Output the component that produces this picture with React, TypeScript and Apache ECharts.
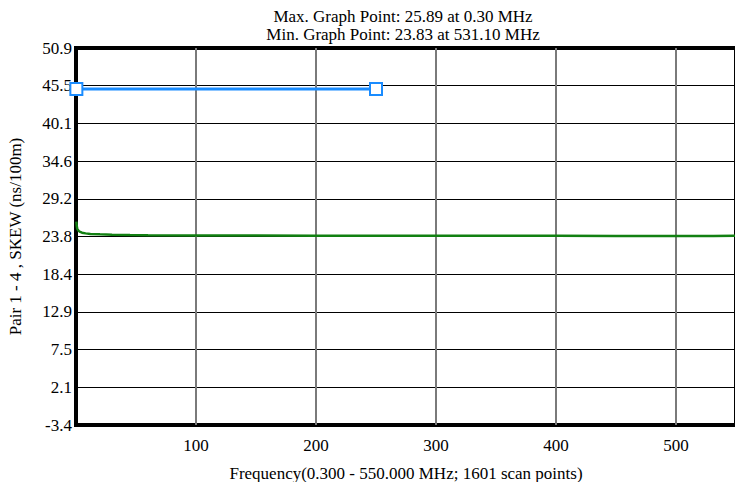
import React, { useEffect, useRef } from "react";
import * as echarts from "echarts";

const freqMHz = [0.3, 0.6, 1, 2, 3, 5, 8, 12, 20, 30, 45, 60, 100, 150, 200, 250, 300, 350, 400, 450, 500, 531.1, 550];
const skew = [25.89, 25.3, 24.9, 24.6, 24.45, 24.3, 24.2, 24.12, 24.06, 24.0, 23.95, 23.92, 23.9, 23.88, 23.87, 23.86, 23.86, 23.85, 23.85, 23.84, 23.84, 23.83, 23.85];

const limitFreq = [0.3, 250];
const limitValue = [45, 45];

const yTickLabels = ["-3.4", "2.1", "7.5", "12.9", "18.4", "23.8", "29.2", "34.6", "40.1", "45.5", "50.9"];
const yMin = -3.4;
const yMax = 50.9;
const xMin = 0;
const xMax = 550;

const titleLines = ["Max. Graph Point: 25.89 at 0.30 MHz", "Min. Graph Point: 23.83 at 531.10 MHz"];
const xName = "Frequency(0.300 - 550.000 MHz; 1601 scan points)";
const yName = "Pair 1 - 4 , SKEW (ns/100m)";

const FONT = "Liberation Serif";

export default function App() {
  const ref = useRef<HTMLDivElement>(null);
  useEffect(() => {
    document.body.style.margin = "0";
    const chart = echarts.init(ref.current!, null, { renderer: "svg" });
    const text = { fontFamily: FONT, fontSize: 17, color: "#000" };
    const titleStyle = { fontFamily: FONT, fontSize: 17, color: "#000", fontWeight: "normal", lineHeight: 17 };
    chart.setOption({
      animation: false,
      backgroundColor: "#fff",
      textStyle: { fontFamily: FONT },
      title: titleLines.map((t, i) => ({
        text: t,
        left: 403,
        textAlign: "center",
        top: 8 + i * 18,
        padding: 0,
        textStyle: titleStyle,
      })),
      grid: {
        left: 76,
        top: 48,
        width: 660,
        height: 377,
        containLabel: false,
        outerBoundsMode: "none",
        show: true,
        borderColor: "#000",
        borderWidth: 4,
        backgroundColor: "#fff",
      },
      xAxis: {
        type: "value",
        min: xMin,
        max: xMax,
        interval: 100,
        name: xName,
        nameLocation: "middle",
        nameGap: 40,
        nameTextStyle: text,
        axisLine: { show: false },
        axisTick: { show: false },
        axisLabel: { ...text, margin: 12, showMinLabel: false, showMaxLabel: false },
        splitLine: { show: true, showMinLine: false, showMaxLine: false, lineStyle: { color: "#7a7a7a", width: 2 } },
      },
      yAxis: [
        {
          type: "value",
          min: yMin,
          max: yMax,
          show: false,
          splitLine: { show: false },
        },
        {
          type: "value",
          min: 0,
          max: 10,
          interval: 1,
          position: "left",
          name: yName,
          nameLocation: "middle",
          nameGap: 52,
          nameTextStyle: text,
          axisLine: { show: false },
          axisTick: { show: false },
          axisLabel: { ...text, margin: 4, formatter: (v: number) => yTickLabels[Math.round(v)] ?? "" },
          splitLine: { show: true, showMinLine: false, showMaxLine: false, lineStyle: { color: "#000", width: 1 } },
        },
      ],
      series: [
        {
          type: "line",
          yAxisIndex: 0,
          data: freqMHz.map((f, i) => [f, skew[i]]),
          showSymbol: false,
          smooth: false,
          lineStyle: { color: "#128012", width: 2.5 },
          z: 3,
        },
        {
          type: "line",
          yAxisIndex: 0,
          data: limitFreq.map((f, i) => [f, limitValue[i]]),
          symbol: "rect",
          symbolSize: 12,
          showSymbol: true,
          lineStyle: { color: "#1a8cff", width: 3 },
          itemStyle: { color: "#fff", borderColor: "#1a8cff", borderWidth: 2 },
          z: 4,
        },
      ],
    });
    return () => chart.dispose();
  }, []);
  return <div ref={ref} style={{ position: "fixed", left: 0, top: 0, width: 735, height: 482 }} />;
}
